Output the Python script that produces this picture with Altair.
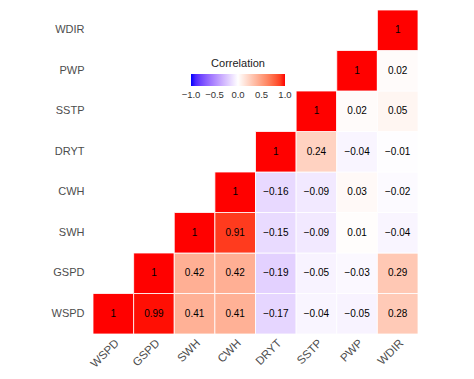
import altair as alt
import pandas as pd

variables = ["WSPD", "GSPD", "SWH", "CWH", "DRYT", "SSTP", "PWP", "WDIR"]

# Upper-triangle correlations: row variable -> values for columns starting at the diagonal
row_WSPD = [1, 0.99, 0.41, 0.41, -0.17, -0.04, -0.05, 0.28]
row_GSPD = [1, 0.42, 0.42, -0.19, -0.05, -0.03, 0.29]
row_SWH = [1, 0.91, -0.15, -0.09, 0.01, -0.04]
row_CWH = [1, -0.16, -0.09, 0.03, -0.02]
row_DRYT = [1, 0.24, -0.04, -0.01]
row_SSTP = [1, 0.02, 0.05]
row_PWP = [1, 0.02]
row_WDIR = [1]

legend_ticks = [-1, -0.5, 0, 0.5, 1]

rows = [row_WSPD, row_GSPD, row_SWH, row_CWH, row_DRYT, row_SSTP, row_PWP, row_WDIR]


def fmt(v):
    if v == 1:
        return "1"
    s = f"{v:.2f}"
    return s.replace("-", "\u2212")


records = []
for i, (rv, vals) in enumerate(zip(variables, rows)):
    for k, v in enumerate(vals):
        records.append({"row": rv, "col": variables[i + k], "value": v, "label": fmt(v)})

df = pd.DataFrame(records)

x_enc = alt.X("col:N", sort=variables, title=None,
              axis=alt.Axis(labelAngle=-45, labelAlign="right", labelBaseline="top",
                            ticks=False, domain=False, labelPadding=3,
                            labelFontSize=11.5, labelColor="#4D4D4D", labelFont="Liberation Sans"))
y_enc = alt.Y("row:N", sort=variables[::-1], title=None,
              axis=alt.Axis(ticks=False, domain=False, labelPadding=9,
                            labelFontSize=11, labelColor="#4D4D4D", labelFont="Liberation Sans"))

base = alt.Chart(df).encode(x=x_enc, y=y_enc)

tiles = base.mark_rect(stroke="white", strokeWidth=0.8).encode(
    color=alt.Color("value:Q",
                    scale=alt.Scale(domain=[-1.0005, 0, 1.0005], range=["blue", "white", "red"],
                                    interpolate="lab", nice=False),
                    title="Correlation",
                    legend=alt.Legend(orient="none", legendX=98, legendY=48, direction="horizontal",
                                      gradientLength=94, gradientThickness=12,
                                      values=legend_ticks, format=".1f", labelOverlap=False,
                                      labelOffset=4,
                                      titleAnchor="middle", titleFontWeight="normal",
                                      titleFontSize=11, titleFont="Liberation Sans", titleColor="#222222",
                                      labelFontSize=9.5, labelFont="Liberation Sans", labelColor="#333333"))
)

texts = base.mark_text(fontSize=10, font="Liberation Sans", color="black").encode(
    text="label:N"
)

chart = (tiles + texts).properties(
    width=325, height=324,
    padding={"left": 85, "top": 2, "right": 5, "bottom": 36},
    autosize=alt.AutoSizeParams(type="none"),
).configure_view(stroke=None).configure_axis(grid=False)

chart.save("out.html", embed_options={"renderer": "svg", "actions": False})
